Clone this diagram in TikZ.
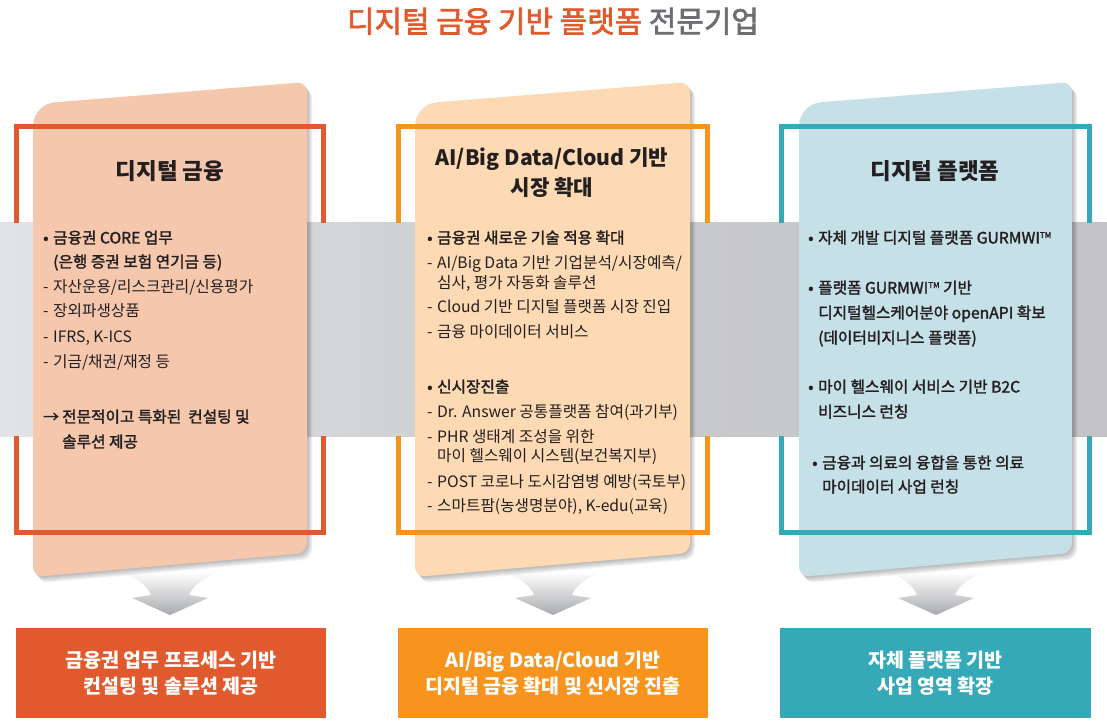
\documentclass[tikz,border=0pt]{standalone}
\usepackage{fontspec}
\setmainfont{Noto Sans CJK KR}
\newfontfamily\medfont[FakeBold=1.8]{Noto Sans CJK KR}
\newfontfamily\ttlfont[FakeBold=2.2]{Noto Sans CJK KR}
\usetikzlibrary{shadows}
\definecolor{cred}{HTML}{E15A2D}
\definecolor{corange}{HTML}{F7941E}
\definecolor{cteal}{HTML}{36A9B9}
\definecolor{fred}{HTML}{F5C8AE}
\definecolor{forange}{HTML}{FDDAB3}
\definecolor{fteal}{HTML}{C6E0E7}
\definecolor{txt}{HTML}{231F20}
\definecolor{tgray}{HTML}{6D6E71}
\definecolor{bandL}{HTML}{E2E3E5}
\definecolor{bandM}{HTML}{CACBCD}
\definecolor{bandR}{HTML}{C3C3C5}
\definecolor{arrowgray}{HTML}{A9AAAD}
\newcommand\mybul{\makebox[10pt][l]{•}}
\newcommand\mydash{\makebox[10pt][l]{-}}
\newcommand\myarr{\makebox[19pt][l]{→}}
\newcommand\mytm{\raisebox{5.5pt}{\fontsize{8}{8}\selectfont TM}}
\begin{document}
\begin{tikzpicture}[x=1pt,y=-1pt,
  txtline/.style={anchor=base west, inner sep=0pt, text=txt, font=\fontsize{15.7}{15.7}\selectfont},
  medline/.style={anchor=base west, inner sep=0pt, text=txt, font=\medfont\fontsize{15.7}{15.7}\selectfont},
  ctitle/.style={anchor=base, inner sep=0pt, text=txt, font=\bfseries\fontsize{22.5}{22.5}\selectfont},
  ctitlesm/.style={anchor=base, inner sep=0pt, text=txt, font=\bfseries\fontsize{21.2}{21.2}\selectfont},
  bbox/.style={minimum width=310pt, minimum height=90pt, inner sep=0pt, align=center, text=white, font=\bfseries\fontsize{19.5}{26}\selectfont},
  outl/.style={line width=5pt, line join=miter},
  garrow/.style={top color=white, bottom color=arrowgray}]
\useasboundingbox (0,0) rectangle (1107,727);

% title
\node[anchor=base, inner sep=0pt, font=\ttlfont\fontsize{29.9}{29.9}\selectfont] (title) at (553,32.5)
  {\textcolor{cred}{디지털 금융 기반 플랫폼} \textcolor{tgray}{전문기업}};

% band
\shade[left color=bandL, right color=bandR, middle color=bandM] (0,223) rectangle (1107,436);

% arrows
\foreach \cx in {170,553,936}{
  \shade[garrow] (\cx-52,572) .. controls (\cx-32,577) and (\cx-22,587) .. (\cx-19,595) -- (\cx-38,598) -- (\cx,615) -- (\cx+38,598) -- (\cx+19,595) .. controls (\cx+22,587) and (\cx+32,577) .. (\cx+52,572) -- cycle;
}

% cards with soft shadows
\foreach \xl/\xr/\col in {33/307/fred, 415/690/forange, 799/1072/fteal}{
  \foreach \s in {1,...,7}{
    \fill[black, opacity=0.045, xshift={\s*0.75pt}, yshift={-\s*0.9pt}]
      (\xl,340) [rounded corners=22pt] -- (\xl,104) [rounded corners=10pt] -- (\xr,82) -- (\xr,553) -- (\xl,577) -- cycle;
  }
  \fill[\col] (\xl,340) [rounded corners=22pt] -- (\xl,104) [rounded corners=10pt] -- (\xr,82) -- (\xr,553) -- (\xl,577) -- cycle;
}

% outlines (hidden behind the band)
\draw[cred, outl] (16,223) -- (16,127) -- (323,127) -- (323,223);
\draw[cred, outl] (16,436) -- (16,532) -- (323,532) -- (323,436);
\draw[corange, outl] (398,223) -- (398,127) -- (707,127) -- (707,223);
\draw[corange, outl] (398,436) -- (398,532) -- (707,532) -- (707,436);
\draw[cteal, outl] (781,223) -- (781,127) -- (1089,127) -- (1089,223);
\draw[cteal, outl] (781,436) -- (781,532) -- (1089,532) -- (1089,436);

% column titles
\node[ctitle] (t1) at (170,180) {디지털 금융};
\node[ctitlesm] (t2a) at (552,165.5) {AI/Big Data/Cloud 기반};
\node[ctitlesm] (t2b) at (552,195.5) {시장 확대};
\node[ctitle] (t3) at (935,180) {디지털 플랫폼};

% column 1
\node[medline] (c1a) at (43,243.5) {\mybul 금융권 CORE 업무};
\node[medline] (c1b) at (43,267.5) {\hspace{10pt}(은행 증권 보험 연기금 등)};
\node[txtline] (c1c) at (43,292.5) {\mydash 자산운용/리스크관리/신용평가};
\node[txtline] (c1d) at (43,316.5) {\mydash 장외파생상품};
\node[txtline] (c1e) at (43,342.5) {\mydash IFRS, K-ICS};
\node[txtline] (c1f) at (43,367.5) {\mydash 기금/채권/재정 등};
\node[medline] (c1g) at (43,422.5) {\myarr 전문적이고 특화된\ \ 컨설팅 및};
\node[medline] (c1h) at (62,447.5) {솔루션 제공};

% column 2
\node[medline] (c2a) at (427,243.5) {\mybul 금융권 새로운 기술 적용 확대};
\node[txtline] (c2b) at (427,268.5) {\mydash AI/Big Data 기반 기업분석/시장예측/};
\node[txtline] (c2c) at (437,288.5) {심사, 평가 자동화 솔루션};
\node[txtline] (c2d) at (427,312.5) {\mydash Cloud 기반 디지털 플랫폼 시장 진입};
\node[txtline] (c2e) at (427,337.5) {\mydash 금융 마이데이터 서비스};
\node[medline] (c2f) at (427,392.5) {\mybul 신시장진출};
\node[txtline] (c2g) at (427,417.5) {\mydash Dr. Answer 공통플랫폼 참여(과기부)};
\node[txtline] (c2h) at (427,442.5) {\mydash PHR 생태계 조성을 위한};
\node[txtline] (c2i) at (437,461.5) {마이 헬스웨이 시스템(보건복지부)};
\node[txtline] (c2j) at (427,487.5) {\mydash POST 코로나 도시감염병 예방(국토부)};
\node[txtline] (c2k) at (427,511.5) {\mydash 스마트팜(농생명분야), K-edu(교육)};

% column 3
\node[medline] (c3a) at (808,243.5) {\mybul 자체 개발 디지털 플랫폼 GURMWI\mytm};
\node[medline] (c3b) at (808,293.5) {\mybul 플랫폼 GURMWI\mytm{} 기반};
\node[medline] (c3c) at (818,318.5) {디지털헬스케어분야 openAPI 확보};
\node[medline] (c3d) at (818,343.5) {(데이터비지니스 플랫폼)};
\node[medline] (c3e) at (808,392.5) {\mybul 마이 헬스웨이 서비스 기반 B2C};
\node[medline] (c3f) at (818,417.5) {비즈니스 런칭};
\node[medline] (c3g) at (812,468.5) {\mybul 금융과 의료의 융합을 통한 의료};
\node[medline] (c3h) at (822,492.5) {마이데이터 사업 런칭};

% bottom boxes
\node[bbox, fill=cred] (b1) at (171,673) {금융권 업무 프로세스 기반\\컨설팅 및 솔루션 제공};
\node[bbox, fill=corange] (b2) at (553,673) {AI/Big Data/Cloud 기반\\디지털 금융 확대 및 신시장 진출};
\node[bbox, fill=cteal, minimum width=311pt] (b3) at (935.5,673) {자체 플랫폼 기반\\사업 영역 확장};
\end{tikzpicture}
\end{document}
